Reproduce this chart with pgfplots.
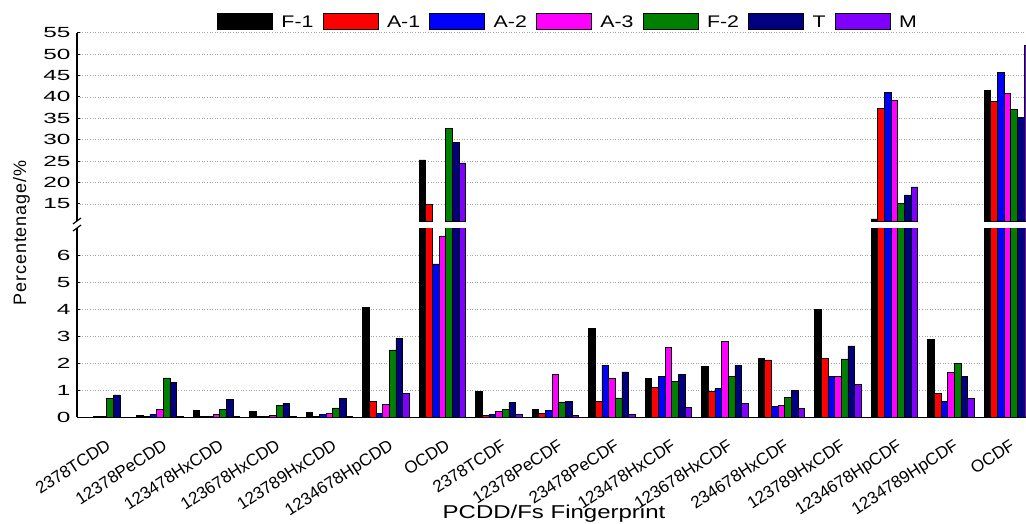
\documentclass[border=0pt]{standalone}
\usepackage{fontspec}
\usepackage{graphicx}
\setmainfont{Liberation Sans}
\newfontfamily\tickff{Liberation Sans}[FakeStretch=1.66]
\newfontfamily\legff{Liberation Sans}[FakeStretch=1.27]
\newfontfamily\xlabff{Liberation Sans}[FakeStretch=1.29]
\newfontfamily\ylabff{Liberation Sans}[LetterSpace=5]
\usepackage{pgfplots}
\usepackage{pgfplotstable}
\pgfplotsset{compat=1.18}
\newcommand\rl[1]{\rotatebox{33}{\raisebox{0pt}[12.2pt][0pt]{#1}}}
\definecolor{cF1}{RGB}{0,0,0}
\definecolor{cA1}{RGB}{255,0,0}
\definecolor{cA2}{RGB}{0,0,255}
\definecolor{cA3}{RGB}{255,0,255}
\definecolor{cF2}{RGB}{0,128,0}
\definecolor{cT}{RGB}{0,0,128}
\definecolor{cM}{RGB}{128,0,255}
\definecolor{gridc}{RGB}{165,165,165}
\pgfplotstableread{
x F1 A1 A2 A3 F2 T M
0 0.01 0.01 0.03 0.02 0.70 0.83 0.01
1 0.08 0.02 0.12 0.30 1.46 1.30 0.02
2 0.25 0.03 0.03 0.10 0.30 0.65 0.03
3 0.22 0.03 0.04 0.06 0.44 0.52 0.03
4 0.18 0.04 0.10 0.15 0.35 0.69 0.03
5 4.07 0.58 0.15 0.49 2.49 2.92 0.89
6 25.3 14.9 5.67 6.71 32.7 29.3 24.6
7 0.97 0.06 0.12 0.22 0.28 0.54 0.12
8 0.30 0.15 0.25 1.60 0.57 0.60 0.06
9 3.28 0.58 1.93 1.44 0.72 1.68 0.10
10 1.44 1.11 1.51 2.59 1.33 1.59 0.37
11 1.89 0.97 1.07 2.81 1.51 1.93 0.52
12 2.19 2.12 0.41 0.44 0.73 1.00 0.32
13 4.00 2.19 1.51 1.50 2.16 2.64 1.22
14 11.5 37.3 41.1 39.1 15.1 17.1 19.0
15 2.89 0.89 0.58 1.67 1.98 1.51 0.69
16 41.5 39.0 45.7 40.8 37.1 35.2 52.0
}\datatable
\pgfplotsset{
  common/.style={
    scale only axis, width=956.8pt,
    xmin=-0.467, xmax=16.467,
    ybar=0pt, bar width=6.67pt,
    ymajorgrids,
    grid style={gridc, line width=0.8pt, dash pattern=on 1pt off 1.6pt},
    axis y line*=left,
    axis line style={line width=1.6pt, black},
    tick align=inside, major tick length=3.5pt,
    ytick style={black, line width=1pt},
    /pgf/number format/assume math mode=true,
    yticklabel style={font=\tickff\fontsize{14.7}{16}\selectfont, inner xsep=0pt, xshift=-6.3pt},
  },
  barst/.style={fill=#1, draw=black, line width=0.6pt},
}
\begin{document}
\begin{tikzpicture}
\begin{axis}[common,
  at={(77pt,105.7pt)}, anchor=south west, height=189.3pt,
  ymin=0, ymax=7, ytick={0,1,2,3,4,5,6},
  axis x line*=bottom,
  xtick={0,...,16}, xtick style={draw=none},
  xticklabels={\rl{2378TCDD},\rl{12378PeCDD},\rl{123478HxCDD},\rl{123678HxCDD},\rl{123789HxCDD},\rl{1234678HpCDD},\rl{OCDD},\rl{2378TCDF},\rl{12378PeCDF},\rl{23478PeCDF},\rl{123478HxCDF},\rl{123678HxCDF},\rl{234678HxCDF},\rl{123789HxCDF},\rl{1234678HpCDF},\rl{1234789HpCDF},\rl{OCDF}},
  xticklabel style={font=\fontsize{17}{19}\selectfont, inner sep=0pt, xshift=8.6pt, yshift=-20.7pt, anchor=north east},
]
\addplot[barst=cF1] table[x=x,y=F1]{\datatable};
\addplot[barst=cA1] table[x=x,y=A1]{\datatable};
\addplot[barst=cA2] table[x=x,y=A2]{\datatable};
\addplot[barst=cA3] table[x=x,y=A3]{\datatable};
\addplot[barst=cF2] table[x=x,y=F2]{\datatable};
\addplot[barst=cT] table[x=x,y=T]{\datatable};
\addplot[barst=cM] table[x=x,y=M]{\datatable};
\end{axis}
\begin{axis}[common,
  at={(77pt,301.9pt)}, anchor=south west, height=188.4pt,
  ymin=11, ymax=55, ytick={15,20,...,55},
  axis x line=none, xtick=\empty,
  restrict y to domain=11:100,
  legend columns=-1,
  legend cell align=left,
  legend style={draw=none, fill=none, at={(rel axis cs:0.1367,1.0594)}, anchor=west,
    font=\legff\fontsize{16.8}{20}\selectfont, inner sep=0pt, column sep=0pt,
    nodes={inner sep=0pt}, cells={anchor=base west}},
  legend image code/.code={\draw[#1, line width=0.8pt] (0pt,-2.3pt) rectangle (55pt,14.4pt); \path[draw=none,fill=none] (-9.5pt,0pt) -- (64pt,0pt);},
]
\addplot[barst=cF1] table[x=x,y=F1]{\datatable};
\addplot[barst=cA1] table[x=x,y=A1]{\datatable};
\addplot[barst=cA2] table[x=x,y=A2]{\datatable};
\addplot[barst=cA3] table[x=x,y=A3]{\datatable};
\addplot[barst=cF2] table[x=x,y=F2]{\datatable};
\addplot[barst=cT] table[x=x,y=T]{\datatable};
\addplot[barst=cM] table[x=x,y=M]{\datatable};
\legend{F-1,A-1,A-2,A-3,F-2,T,M}
\end{axis}
\draw[line width=1.2pt] (73pt,299pt) -- (81pt,305pt);
\draw[line width=1.2pt] (73pt,292pt) -- (81pt,298pt);
\node[rotate=90, anchor=base, font=\ylabff\fontsize{18}{21}\selectfont, inner sep=0pt] at (26pt,290pt) {Percentenage/\%};
\node[anchor=base, font=\xlabff\fontsize{18.6}{21}\selectfont, inner sep=0pt] at (554pt,4.7pt) {PCDD/Fs Fingerprint};
\pgfresetboundingbox
\path[use as bounding box] (0pt,0pt) rectangle (1026pt,523pt);
\end{tikzpicture}
\end{document}
